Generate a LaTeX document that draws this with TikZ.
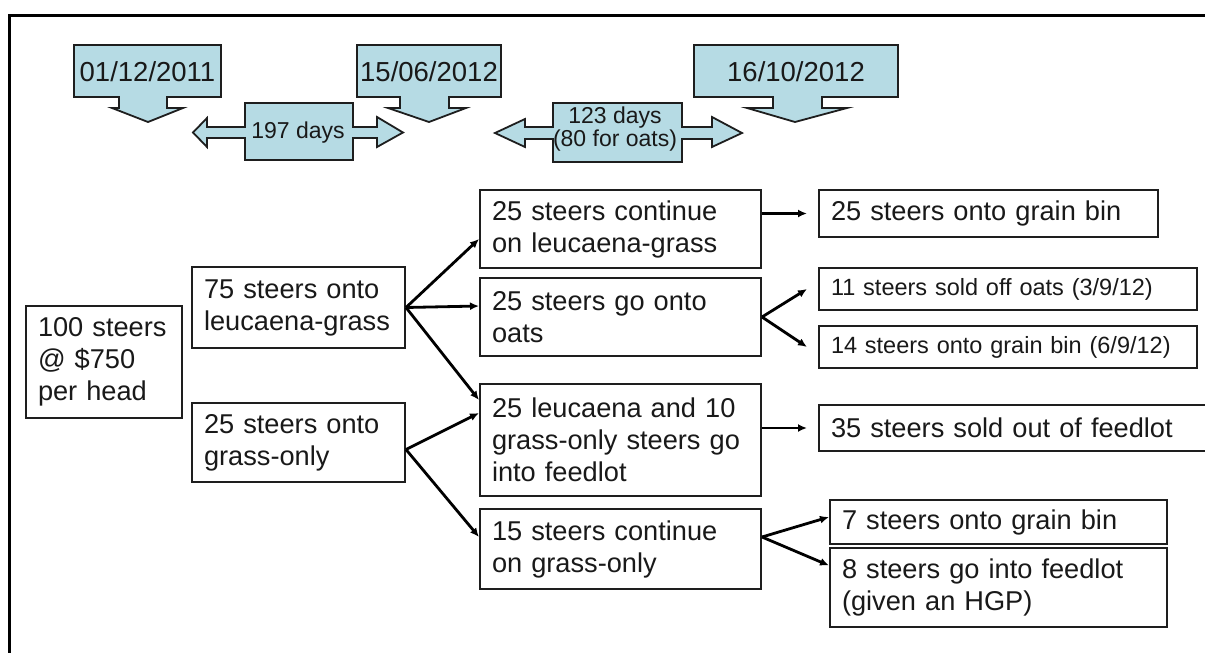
\documentclass[tikz,border=0pt]{standalone}
\usepackage{fontspec}
\setmainfont{Liberation Sans}
\usetikzlibrary{arrows.meta}

\definecolor{callblue}{RGB}{182,219,228}
\definecolor{linegray}{RGB}{30,30,30}
\definecolor{textgray}{RGB}{25,25,25}

\tikzset{
  box/.style={draw=linegray, line width=2pt, align=left, inner xsep=12pt, inner ysep=0pt,
    text=textgray, font=\fontsize{27.2}{32}\selectfont},
  smallbox/.style={box, font=\fontsize{23.5}{28}\selectfont},
  callout/.style={draw=linegray, line width=1.8pt, fill=callblue},
  calltext/.style={text=textgray, inner sep=0pt, align=center},
  link/.style={line width=2.8pt, draw=black, -{Latex[length=9pt,width=8pt]}},
}

\begin{document}
\begin{tikzpicture}[x=1pt, y=-1pt]
    \useasboundingbox (0,0) rectangle (1205,653);
    \clip (0,0) rectangle (1205,653);
    \fill[white] (0,0) rectangle (1205,653);
    \draw[line width=3pt] (9,680) -- (9,15) -- (1230,15);

    % Draw date callouts
    \draw[callout] (74,45) -- (221,45) -- (221,97) -- (167,97) -- (167,108) -- (183,108)
        -- (148,122) -- (112,108) -- (119,108) -- (119,97) -- (74,97) -- cycle;
    \draw[callout] (357,45) -- (501,45) -- (501,97) -- (449,97) -- (449,108) -- (466,108)
        -- (429,122) -- (388,108) -- (400,108) -- (400,97) -- (357,97) -- cycle;
    \draw[callout] (694,45) -- (898,45) -- (898,97) -- (822,97) -- (822,108) -- (847,108)
        -- (795,122) -- (747,108) -- (773,108) -- (773,97) -- (694,97) -- cycle;
    \node[calltext, font=\fontsize{27.5}{30}\selectfont] (d1) at (147.5,72) {01/12/2011};
    \node[calltext, font=\fontsize{27.5}{30}\selectfont] (d2) at (429,72) {15/06/2012};
    \node[calltext, font=\fontsize{27.5}{30}\selectfont] (d3) at (796,72) {16/10/2012};

    % Draw day spans
    \draw[callout] (245,103) -- (353,103) -- (353,127) -- (377,127) -- (377,117) -- (403,132.5)
        -- (377,147) -- (377,138) -- (353,138) -- (353,160) -- (245,160) -- (245,138)
        -- (207,138) -- (207,147) -- (193,132.5) -- (207,118) -- (207,127) -- (245,127) -- cycle;
    \draw[callout] (553,103) -- (682,103) -- (682,127) -- (712,127) -- (712,117) -- (742,133)
        -- (712,147) -- (712,139) -- (682,139) -- (682,162) -- (553,162) -- (553,139)
        -- (525,139) -- (525,147) -- (495,133) -- (525,119) -- (525,127) -- (553,127) -- cycle;
    \node[calltext, font=\fontsize{23}{26}\selectfont] (span1) at (298,133) {197 days};
    \node[calltext, font=\fontsize{23}{21}\selectfont] (span2) at (615,129) {123 days\\(80 for oats)};

    % Draw nodes
    \node[box, minimum width=156pt, text width=132pt, minimum height=112pt] (start) at (104,362)
        {100 steers\\@ \$750\\per head};
    \node[box, minimum width=213pt, text width=189pt, minimum height=81pt] (leu) at (298.5,307.5)
        {75 steers onto\\leucaena-grass};
    \node[box, minimum width=213pt, text width=189pt, minimum height=79pt] (grass) at (298.5,442.5)
        {25 steers onto\\grass-only};
    \node[box, minimum width=281pt, text width=257pt, minimum height=78pt] (contleu) at (620.5,229)
        {25 steers continue\\on leucaena-grass};
    \node[box, minimum width=281pt, text width=257pt, minimum height=78pt] (oats) at (620.5,317)
        {25 steers go onto\\oats};
    \node[box, minimum width=281pt, text width=257pt, minimum height=112pt] (feedlot) at (620.5,440)
        {25 leucaena and 10\\grass-only steers go\\into feedlot};
    \node[box, minimum width=281pt, text width=257pt, minimum height=80pt] (contgrass) at (620.5,549)
        {15 steers continue\\on grass-only};
    \node[box, minimum width=339pt, text width=315pt, minimum height=47pt] (grainA) at (988.5,213.5)
        {25 steers onto grain bin};
    \node[smallbox, minimum width=378pt, text width=354pt, minimum height=42pt] (soldoats) at (1008,289)
        {11 steers sold off oats (3/9/12)};
    \node[smallbox, minimum width=378pt, text width=354pt, minimum height=42pt] (grainB) at (1008,347)
        {14 steers onto grain bin (6/9/12)};
    \node[box, minimum width=411pt, text width=387pt, minimum height=46pt] (soldfeed) at (1024.5,428)
        {35 steers sold out of feedlot};
    \node[box, minimum width=337pt, text width=313pt, minimum height=44pt] (grainC) at (998.5,522)
        {7 steers onto grain bin};
    \node[box, minimum width=337pt, text width=313pt, minimum height=79pt] (hgp) at (998.5,587.5)
        {8 steers go into feedlot\\(given an HGP)};

    % Draw edges
    \draw[link] (leu.east) -- ([yshift=-10pt]contleu.west);
    \draw[link] (leu.east) -- ([yshift=11pt]oats.west);
    \draw[link] (leu.east) -- ([yshift=40pt]feedlot.west);
    \draw[link] ([yshift=-7pt]grass.east) -- ([yshift=27pt]feedlot.west);
    \draw[link] ([yshift=-7pt]grass.east) -- ([yshift=12pt]contgrass.west);
    \draw[link] (contleu.east |- grainA.west) -- ([xshift=-11pt]grainA.west);
    \draw[link] (oats.east) -- ([xshift=-11pt]soldoats.west);
    \draw[link] (oats.east) -- ([xshift=-11pt]grainB.west);
    \draw[link] (feedlot.east |- soldfeed.west) -- ([xshift=-11pt]soldfeed.west);
    \draw[link] ([yshift=12pt]contgrass.east) -- ([yshift=5pt]grainC.west);
    \draw[link] ([yshift=12pt]contgrass.east) -- ([yshift=22pt]hgp.west);
\end{tikzpicture}
\end{document}
